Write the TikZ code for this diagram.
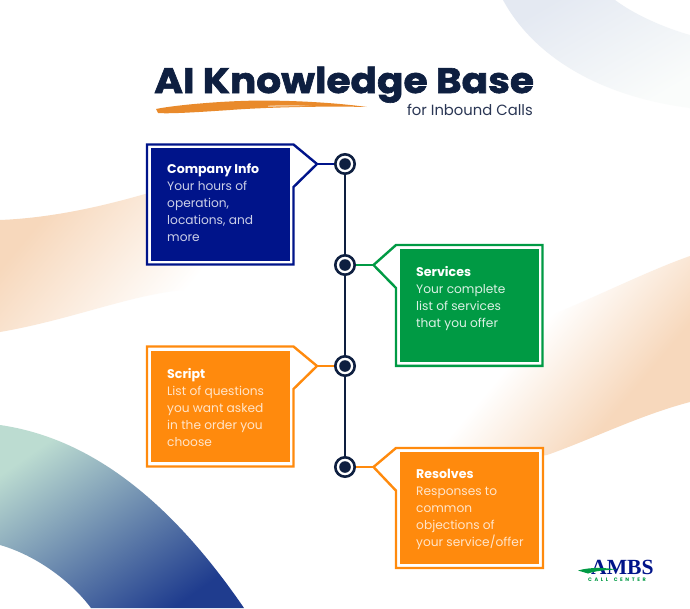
\documentclass[tikz,border=0pt]{standalone}
\usepackage{fontspec}
\setmainfont{Poppins}
\newfontfamily\titlefont[BoldFeatures={FakeStretch=1.1,FakeBold=1.8}]{Poppins}
\newfontfamily\logofont{Liberation Serif}
\definecolor{inkdark}{HTML}{0E1F40}
\definecolor{inksub}{HTML}{2A3654}
\definecolor{navybox}{HTML}{00148A}
\definecolor{greenbox}{HTML}{009A44}
\definecolor{orangebox}{HTML}{FF8A0D}
\definecolor{brush}{HTML}{E98A2B}
\definecolor{peach}{HTML}{F7D8BC}
\definecolor{mistblue}{HTML}{E4E9F2}
\definecolor{mistmid}{HTML}{EDF3F3}
\definecolor{mistpale}{HTML}{FAFCFB}
\definecolor{arcmint}{HTML}{BCDCD1}
\definecolor{arcmid}{HTML}{6497A6}
\definecolor{arcblue}{HTML}{1F3C8E}
\pgfdeclarehorizontalshading{leftfade}{100bp}{color(0bp)=(peach); color(30bp)=(peach); color(72bp)=(white); color(100bp)=(white)}
\pgfdeclarehorizontalshading{rightfade}{100bp}{color(0bp)=(white); color(41bp)=(white); color(65bp)=(peach); color(100bp)=(peach)}
\begin{document}
\begin{tikzpicture}[x=1pt,y=-1pt,join=miter]
    \tikzstyle{outline} = [fill=white,line width=2.4pt]
    \tikzstyle{panel} = [rectangle,minimum width=139.5pt,inner sep=0pt]
    \tikzstyle{ann} = [anchor=north west,align=left,inner sep=0pt,font=\fontsize{12.2}{17}\selectfont]
    \tikzstyle{stem} = [line width=2.2pt]
    \tikzstyle{ringdot} = [circle,draw=inkdark,fill=white,line width=2.6pt,minimum size=19.4pt,inner sep=0pt,
        path picture={\fill[inkdark] (path picture bounding box.center) circle (5.8pt);}]
    \useasboundingbox (0,0) rectangle (690,608);
    \fill[white] (0,0) rectangle (690,608);
    % background shapes
    \shade[shading=leftfade,shading angle=-40]
        (0,220) .. controls (50,218) and (100,207) .. (145,194)
        -- (215,180) -- (215,290) -- (183,290)
        .. controls (130,295) and (70,320) .. (0,332) -- cycle;
    \shade[shading=rightfade,shading angle=-40]
        (440,450) -- (547,317) .. controls (600,295) and (650,270) .. (690,256)
        -- (690,402) .. controls (640,415) and (590,440) .. (547,455)
        -- (440,470) -- cycle;
    \shade[left color=mistblue,middle color=mistmid,right color=mistpale,shading angle=30]
        (503,0) .. controls (530,50) and (590,95) .. (690,108)
        -- (690,35) .. controls (665,28) and (635,15) .. (615,0) -- cycle;
    \shade[left color=arcmint,middle color=arcmid,right color=arcblue,shading angle=35]
        (0,425) .. controls (90,438) and (170,500) .. (244,608)
        -- (91,608) .. controls (70,580) and (35,555) .. (0,545) -- cycle;
    % title
    \fill[brush] (156,109) .. controls (175,105) and (230,100) .. (270,100.6)
        .. controls (310,101) and (345,104) .. (367,107)
        .. controls (330,106) and (270,107) .. (230,110)
        .. controls (200,112) and (170,114) .. (158,113) -- cycle;
    \fill[brush!55!white] (268,105.6) .. controls (285,104.6) and (300,105) .. (312,106)
        .. controls (295,106.5) and (280,106.5) .. (268,107) -- cycle;
    \node[inner sep=0pt,anchor=base west,text=inkdark] (title) at (154,93)
        {\titlefont\fontsize{35.5}{36}\selectfont\bfseries AI Knowledge Base};
    \node[inner sep=0pt,anchor=base east,text=inksub] (subtitle) at (533,115)
        {\fontsize{14.8}{16}\selectfont for Inbound Calls};
    % time line
    \node[ringdot] (companydot) at (345,164) {};
    \node[ringdot] (servicesdot) at (345,265) {};
    \node[ringdot] (scriptdot) at (345,366) {};
    \node[ringdot] (resolvesdot) at (345,467) {};
    \coordinate (companytip) at (317,164);
    \coordinate (servicestip) at (373.5,265);
    \coordinate (scripttip) at (317,366);
    \coordinate (resolvestip) at (373.5,467);
    \draw[stem,navybox] (companytip) -- (companydot);
    \draw[stem,greenbox] (servicestip) -- (servicesdot);
    \draw[stem,orangebox] (scripttip) -- (scriptdot);
    \draw[stem,orangebox] (resolvestip) -- (resolvesdot);
    \draw[line width=2.7pt,inkdark] (companydot) -- (servicesdot);
    \draw[line width=2.7pt,inkdark] (servicesdot) -- (scriptdot);
    \draw[line width=2.7pt,inkdark] (scriptdot) -- (resolvesdot);
    % call-outs
    \filldraw[outline,draw=navybox] (147,144.5) -- (293.5,144.5) -- (companytip)
        -- (293.5,187) -- (293.5,264.5) -- (147,264.5) -- cycle;
    \node[panel,fill=navybox,minimum height=112.4pt] (companybox) at (220.5,204.5) {};
    \node[ann,text=navybox!20!white] (companytext) at (167,163.2)
        {\textcolor{white}{\fontsize{12.6}{17}\selectfont\textbf{Company Info}}\\Your hours of\\operation,\\locations, and\\more};
    \filldraw[outline,draw=greenbox] (542.5,245) -- (396,245) -- (servicestip)
        -- (396,288) -- (396,365.8) -- (542.5,365.8) -- cycle;
    \node[panel,fill=greenbox,minimum height=112.7pt] (servicesbox) at (469.5,305.3) {};
    \node[ann,text=greenbox!14!white] (servicestext) at (416,266.2)
        {\textcolor{white}{\fontsize{12.6}{17}\selectfont\textbf{Services}}\\Your complete\\list of services\\that you offer};
    \filldraw[outline,draw=orangebox] (147,346.5) -- (293.5,346.5) -- (scripttip)
        -- (293.5,389) -- (293.5,466.5) -- (147,466.5) -- cycle;
    \node[panel,fill=orangebox,minimum height=111.6pt] (scriptbox) at (220.5,406.5) {};
    \node[ann,text=orangebox!22!white] (scripttext) at (167,368.2)
        {\textcolor{white}{\fontsize{12.6}{17}\selectfont\textbf{Script}}\\List of questions\\you want asked\\in the order you\\choose};
    \filldraw[outline,draw=orangebox] (543,448) -- (396,448) -- (resolvestip)
        -- (396,490.7) -- (396,568) -- (543,568) -- cycle;
    \node[panel,fill=orangebox,minimum height=112.3pt] (resolvesbox) at (469.6,507.8) {};
    \node[ann,text=orangebox!22!white] (resolvestext) at (416,469.2)
        {\textcolor{white}{\fontsize{12.6}{17}\selectfont\textbf{Resolves}}\\Responses to\\common\\objections of\\your service/offer};
    % logo
    \node[inner sep=0pt,anchor=base west,text=navybox] (logoname) at (591,574)
        {\logofont\fontsize{21.6}{20}\selectfont\bfseries AMBS};
    \fill[greenbox] (578,570.5) .. controls (590,567) and (605,567.5) .. (616,569.5)
        .. controls (605,570) and (595,571) .. (588,573.5) -- cycle;
    \node[inner sep=0pt,anchor=base west,text=greenbox] (logosub) at (588,581)
        {\fontsize{5}{6}\selectfont\bfseries C\hspace{2.6pt}A\hspace{2.6pt}L\hspace{2.6pt}L\hspace{5.5pt}C\hspace{2.6pt}E\hspace{2.6pt}N\hspace{2.6pt}T\hspace{2.6pt}E\hspace{2.6pt}R};
\end{tikzpicture}
\end{document}
